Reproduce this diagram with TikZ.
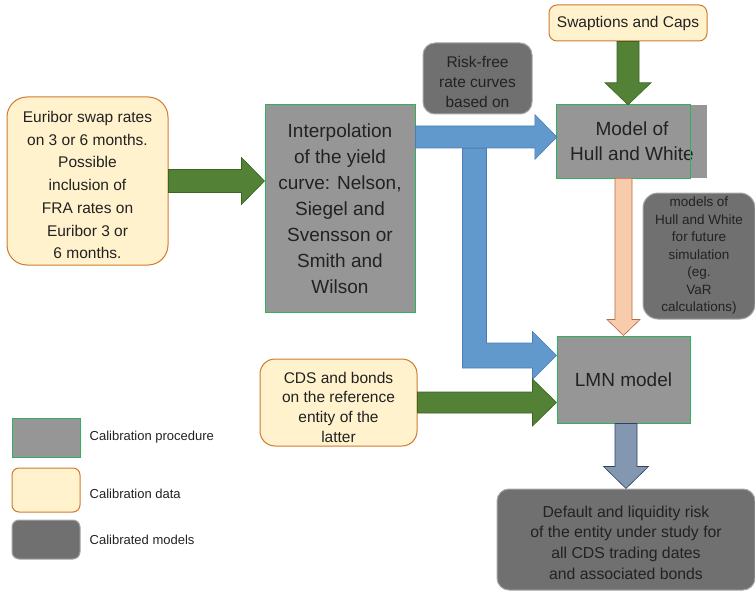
\documentclass[tikz,border=0pt]{standalone}
\usepackage{fontspec}
\setmainfont{Liberation Sans}
\usetikzlibrary{calc,positioning}

\definecolor{procfill}{HTML}{969696}
\definecolor{procedge}{HTML}{2DB35A}
\definecolor{datafill}{HTML}{FFF2CC}
\definecolor{dataedge}{HTML}{CF7A2F}
\definecolor{modfill}{HTML}{707070}
\definecolor{modedge}{HTML}{A6A6A6}
\definecolor{txt}{HTML}{222222}
\definecolor{greenfill}{HTML}{538135}
\definecolor{greenedge}{HTML}{3A6324}
\definecolor{bluefill}{HTML}{6299CC}
\definecolor{blueedge}{HTML}{4A7DB5}
\definecolor{peachfill}{HTML}{F8CBAD}
\definecolor{peachedge}{HTML}{B5693C}
\definecolor{slatefill}{HTML}{8497B0}
\definecolor{slateedge}{HTML}{2E4364}

% block arrow to the right: style, start, tip, shaft half, head half, head length
\newcommand{\rightblock}[6]{%
  \draw[#1] ($(#2)+(0,-#4)$) -- ($(#3)+(-#6,-#4)$) -- ($(#3)+(-#6,-#5)$) -- (#3)
    -- ($(#3)+(-#6,#5)$) -- ($(#3)+(-#6,#4)$) -- ($(#2)+(0,#4)$) -- cycle;}
% block arrow downwards: style, start, tip, shaft half, head half, head length
\newcommand{\downblock}[6]{%
  \draw[#1] ($(#2)+(-#4,0)$) -- ($(#3)+(-#4,-#6)$) -- ($(#3)+(-#5,-#6)$) -- (#3)
    -- ($(#3)+(#5,-#6)$) -- ($(#3)+(#4,-#6)$) -- ($(#2)+(#4,0)$) -- cycle;}

\begin{document}
\begin{tikzpicture}[
  x=1pt, y=-1pt,
  every node/.style={text=txt, inner sep=0pt, align=center},
  proc/.style={rectangle, fill=procfill, draw=procedge, line width=1pt},
  data/.style={rectangle, fill=datafill, draw=dataedge, line width=1pt},
  calib/.style={rectangle, fill=modfill, draw=modedge, line width=1pt},
  greenarr/.style={fill=greenfill, draw=greenedge, line width=0.6pt},
  bluearr/.style={fill=bluefill, draw=blueedge, line width=0.6pt},
  peacharr/.style={fill=peachfill, draw=peachedge, line width=0.6pt},
  slatearr/.style={fill=slatefill, draw=slateedge, line width=0.6pt},
  big/.style={font=\fontsize{19}{26}\selectfont},
  mid/.style={font=\fontsize{15.5}{20}\selectfont},
  small/.style={font=\fontsize{13.5}{17.5}\selectfont},
  legtext/.style={font=\fontsize{13}{16}\selectfont}
]
  \useasboundingbox (0,0) rectangle (755,591);

  \node[data, rounded corners=20pt, minimum width=161pt, minimum height=168pt,
        font=\fontsize{15.5}{22.7}\selectfont] (eur) at (87.5,181)
    {\rule{0pt}{19.5pt}Euribor swap rates\\on 3 or 6 months.\\Possible\\inclusion of\\FRA rates on\\Euribor 3 or\\6 months.};
  \node[proc, big, minimum width=150pt, minimum height=207pt] (interp) at (340,208.5)
    {Interpolation\\of the yield\\curve: Nelson,\\Siegel and\\Svensson or\\Smith and\\Wilson};
  \node[calib, mid, rounded corners=12pt, minimum width=109pt, minimum height=71pt] (riskfree) at (477.5,78.5)
    {\rule{0pt}{19pt}Risk-free\\rate curves\\based on};
  \node[data, mid, rounded corners=8pt, minimum width=158pt, minimum height=36pt] (swaptions) at (628,23)
    {Swaptions and Caps};
  \node[rectangle, fill=procfill, minimum width=150pt, minimum height=73pt,
        font=\fontsize{19}{25}\selectfont] (hullwhite) at (632,141.5)
    {Model of\\Hull and White};
  \draw[procedge, line width=1pt] (hullwhite.north west) rectangle ($(hullwhite.south east)+(-17,0)$);
  \node[calib, small, rounded corners=15pt, minimum width=112pt, minimum height=126pt] (hwsim) at (699,256)
    {models of\\Hull and White\\for future\\simulation\\(eg.\\VaR\\calculations)};
  \node[proc, big, minimum width=133pt, minimum height=87pt] (lmn) at (623.5,379.5) {LMN model};
  \node[data, rounded corners=15pt, minimum width=157pt, minimum height=87pt,
        font=\fontsize{15.5}{19.7}\selectfont] (cds) at (338.5,402.5)
    {\rule{0pt}{20.5pt}CDS and bonds\\on the reference\\entity of the\\latter};
  \node[calib, rounded corners=12pt, minimum width=258pt, minimum height=101pt,
        font=\fontsize{15.8}{20.7}\selectfont] (risk) at (626,539.5)
    {\rule{0pt}{17.5pt}Default and liquidity risk\\of the entity under study for\\all CDS trading dates\\and associated bonds};

  % legend
  \node[proc, minimum width=68pt, minimum height=39pt] (legproc) at (46,437.5) {};
  \node[data, rounded corners=7pt, minimum width=68pt, minimum height=44pt] (legdata) at (46,490) {};
  \node[calib, rounded corners=7pt, minimum width=68pt, minimum height=39pt] (legcalib) at (46,539.5) {};
  \node[legtext, right=9pt of legproc] (tproc) {Calibration procedure};
  \node[legtext, right=9pt of legdata, yshift=-4pt] (tdata) {Calibration data};
  \node[legtext, right=9pt of legcalib] (tcalib) {Calibrated models};

  % connectors
  \coordinate (eurtip) at (eur.east -| interp.west);
  \rightblock{greenarr}{eur.east}{eurtip}{11.5}{23.5}{23}
  \coordinate (swaptip) at (swaptions.south |- hullwhite.north);
  \downblock{greenarr}{swaptions.south}{swaptip}{11}{23}{22}
  \coordinate (hwin) at ($(hullwhite.west)+(0,-4.5)$);
  \coordinate (interpout) at (hwin -| interp.east);
  \coordinate (fork) at ($(interpout)+(59,11)$);
  \coordinate (lmntip) at ($(lmn.west)+(0,-24)$);
  \draw[bluearr] ($(fork)+(-12,0)$) -- ($(fork |- lmntip)+(-12,12.5)$) -- ($(lmntip)+(-24,12.5)$)
    -- ($(lmntip)+(-24,24)$) -- (lmntip) -- ($(lmntip)+(-24,-24)$) -- ($(lmntip)+(-24,-12.5)$)
    -- ($(fork |- lmntip)+(12,-12.5)$) -- ($(fork)+(12,0)$) -- cycle;
  \rightblock{bluearr}{interpout}{hwin}{11}{22.5}{22}
  \coordinate (hwout) at (lmn.north |- hullwhite.south);
  \downblock{peacharr}{hwout}{lmn.north}{8.5}{16.5}{16}
  \coordinate (cdstip) at (cds.east -| lmn.west);
  \rightblock{greenarr}{cds.east}{cdstip}{10.5}{23.5}{24}
  \coordinate (lmnout) at (risk.north |- lmn.south);
  \downblock{slatearr}{lmnout}{risk.north}{11}{22.5}{22}
\end{tikzpicture}
\end{document}
